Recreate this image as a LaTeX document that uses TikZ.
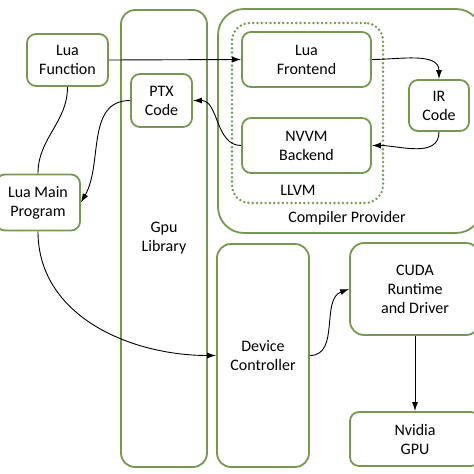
\documentclass[tikz,border=0pt]{standalone}
\usepackage{fontspec}
\setmainfont{Carlito}
\usetikzlibrary{arrows.meta}
\definecolor{boxgreen}{RGB}{118,152,84}
\begin{document}
\begin{tikzpicture}[x=1pt,y=-1pt,
  box/.style={draw=boxgreen,line width=1.8pt,rounded corners=9pt,fill=white,inner sep=0pt,align=center,
    font=\fontsize{16}{19}\selectfont},
  lbl/.style={font=\fontsize{16}{19}\selectfont,inner sep=0pt,align=center},
  conn/.style={draw=black,line width=0.9pt,-{Latex[length=9pt,width=6pt]}},
  plain/.style={draw=black,line width=0.9pt}]
\useasboundingbox (0,0) rectangle (474,474);
% containers
\node[box,rounded corners=26pt,minimum width=264pt,minimum height=224pt] (comp) at (350,121) {};
\node[lbl] (complbl) at (347,218) {Compiler Provider};
\node[draw=boxgreen,line width=2.7pt,dash pattern=on 0pt off 4.3pt,line cap=round,rounded corners=18pt,
  minimum width=151pt,minimum height=180pt,inner sep=0pt] (llvm) at (307.5,113) {};
\node[lbl] (llvmlbl) at (298,190) {LLVM};
\node[box,rounded corners=14pt,minimum width=86pt,minimum height=457pt] (gpu) at (164,238.5) {Gpu\\Library};
% nodes
\node[box,minimum width=81pt,minimum height=52pt] (luaf) at (67.5,60) {Lua\\Function};
\node[box,minimum width=61pt,minimum height=53pt] (ptx) at (161.5,100.5) {PTX\\Code};
\node[box,minimum width=84pt,minimum height=56pt] (luam) at (38,202.5) {Lua Main\\Program};
\node[box,minimum width=129pt,minimum height=55pt] (fe) at (306.5,59.5) {Lua\\Frontend};
\node[box,minimum width=129pt,minimum height=55pt] (nvvm) at (306.5,145.5) {NVVM\\Backend};
\node[box,minimum width=60pt,minimum height=51pt] (ir) at (439,105.5) {IR\\Code};
\node[box,rounded corners=14pt,minimum width=92pt,minimum height=223pt] (dev) at (263,355.5) {Device\\Controller};
\node[box,rounded corners=14pt,minimum width=130pt,minimum height=92pt] (cuda) at (415,289) {CUDA\\Runtime\\and Driver};
\node[box,minimum width=130pt,minimum height=54pt] (nv) at (415,439) {Nvidia\\GPU};
% connectors
\draw[conn] (luaf.east) -- (fe.west);
\draw[conn] (fe.east) to[out=0,in=90] (ir.north);
\draw[conn] (ir.south) to[out=-90,in=0] (nvvm.east);
\draw[conn] (nvvm.west) to[out=180,in=0] (ptx.east);
\draw[conn] (ptx.west) to[out=180,in=60] (luam.east);
\draw[plain] (luaf.south) to[out=-90,in=90] (luam.north);
\draw[conn] (luam.south) to[out=-90,in=180] (dev.west);
\draw[conn] (dev.east) to[out=0,in=200] (cuda.west);
\draw[conn] (cuda.south) -- (nv.north);
\end{tikzpicture}
\end{document}
